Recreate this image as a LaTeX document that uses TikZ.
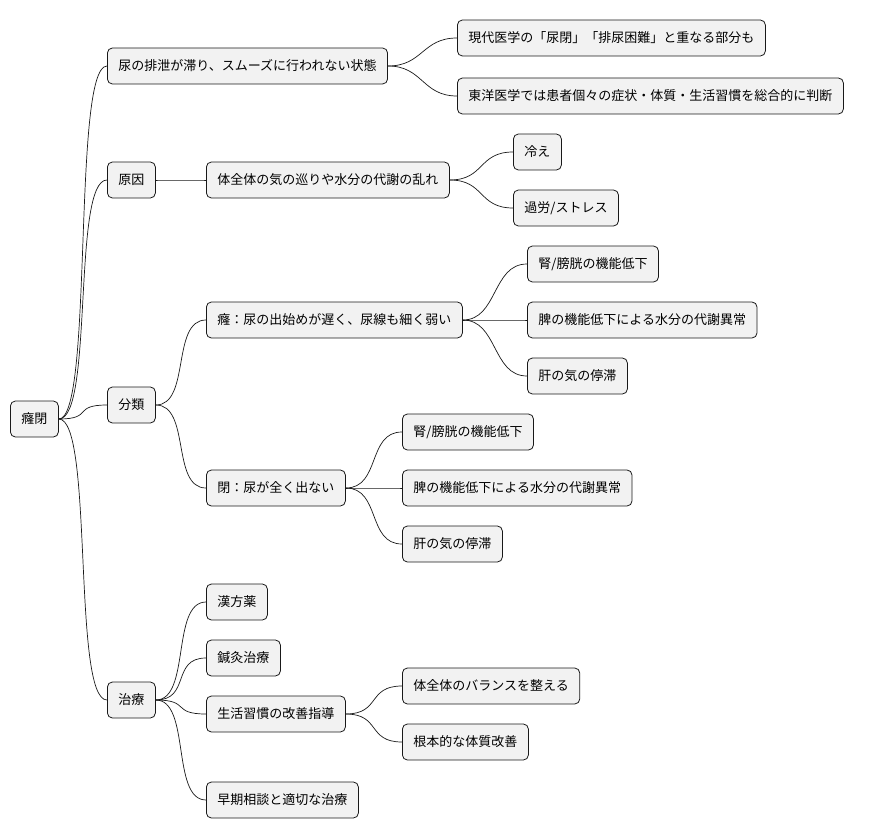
\documentclass[tikz,border=0pt]{standalone}
\usepackage{fontspec}
\setmainfont{Noto Sans CJK JP}
\begin{document}
\begin{tikzpicture}[x=1pt,y=-1pt,
  n/.style={draw=black!90,fill=black!5,rounded corners=5pt,line width=0.8pt,anchor=west,
    minimum height=36pt,inner xsep=11pt,inner ysep=0pt,font=\fontsize{13}{15}\selectfont},
  c/.style={line width=0.7pt,black!90}]
\useasboundingbox (0,0) rectangle (880,837);
\node[n] (r) at (10,419) {癃閉};
\node[n] (a) at (107,66) {尿の排泄が滞り、スムーズに行われない状態};
\node[n] (a1) at (457,38) {現代医学の「尿閉」「排尿困難」と重なる部分も};
\node[n] (a2) at (457,96) {東洋医学では患者個々の症状・体質・生活習慣を総合的に判断};
\node[n] (b) at (107,180) {原因};
\node[n] (b1) at (206,180) {体全体の気の巡りや水分の代謝の乱れ};
\node[n] (b1a) at (513,152) {冷え};
\node[n] (b1b) at (513,208) {過労/ストレス};
\node[n] (c) at (107,405) {分類};
\node[n] (c1) at (206,320) {癃：尿の出始めが遅く、尿線も細く弱い};
\node[n] (c1a) at (527,264) {腎/膀胱の機能低下};
\node[n] (c1b) at (527,320) {脾の機能低下による水分の代謝異常};
\node[n] (c1c) at (527,376) {肝の気の停滞};
\node[n] (c2) at (206,488) {閉：尿が全く出ない};
\node[n] (c2a) at (402,432) {腎/膀胱の機能低下};
\node[n] (c2b) at (402,488) {脾の機能低下による水分の代謝異常};
\node[n] (c2c) at (402,544) {肝の気の停滞};
\node[n] (d) at (107,700) {治療};
\node[n] (d1) at (206,602) {漢方薬};
\node[n] (d2) at (206,658) {鍼灸治療};
\node[n] (d3) at (206,714) {生活習慣の改善指導};
\node[n] (d3a) at (402,686) {体全体のバランスを整える};
\node[n] (d3b) at (402,742) {根本的な体質改善};
\node[n] (d4) at (206,800) {早期相談と適切な治療};
\foreach \p/\q in {r/a,r/b,r/c,r/d,a/a1,a/a2,b/b1,b1/b1a,b1/b1b,c/c1,c/c2,c1/c1a,c1/c1b,c1/c1c,c2/c2a,c2/c2b,c2/c2c,d/d1,d/d2,d/d3,d/d4,d3/d3a,d3/d3b}
  \draw[c] (\p.east) .. controls ([xshift=35pt]\p.east) and ([xshift=-35pt]\q.west) .. (\q.west);
\end{tikzpicture}
\end{document}
